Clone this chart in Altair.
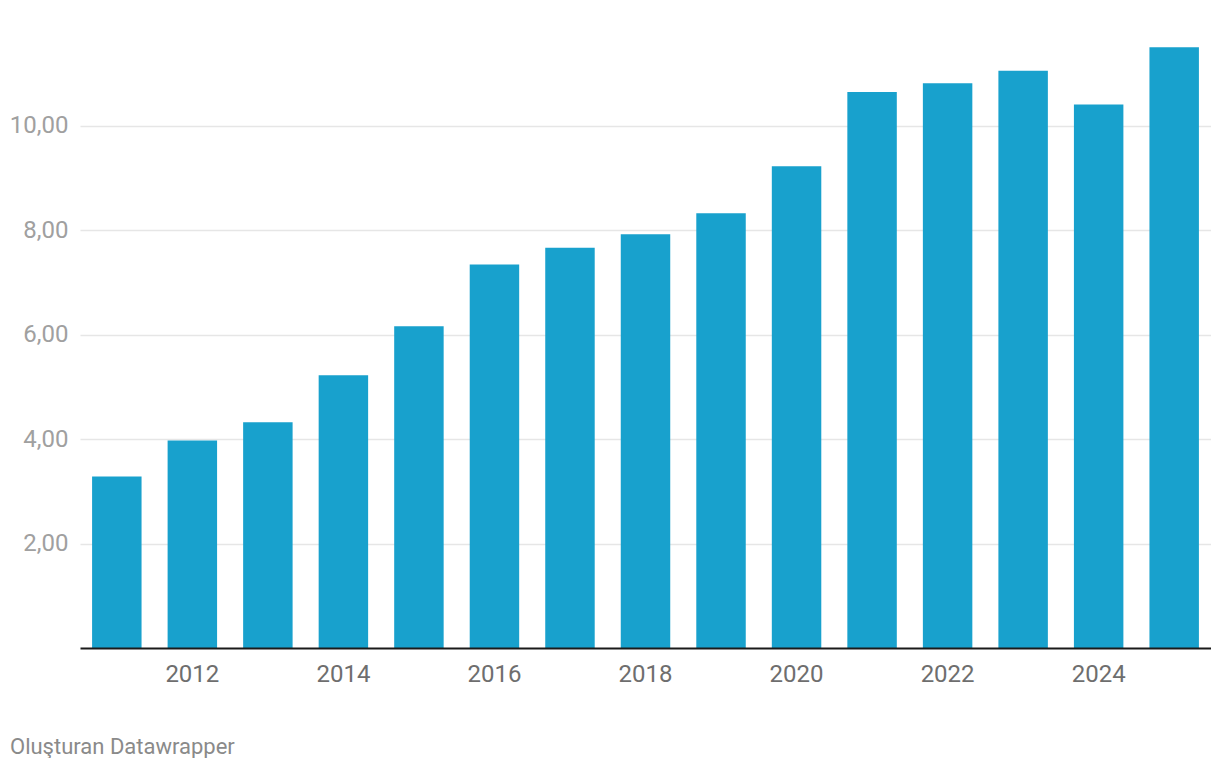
import altair as alt
import pandas as pd

years = [2011, 2012, 2013, 2014, 2015, 2016, 2017, 2018, 2019, 2020, 2021, 2022, 2023, 2024, 2025]
values = [3.28, 3.97, 4.32, 5.22, 6.16, 7.34, 7.66, 7.92, 8.32, 9.22, 10.64, 10.81, 11.05, 10.40, 11.50]
y_ticks = [2, 4, 6, 8, 10]
footer = "Oluşturan Datawrapper"

df = pd.DataFrame({"year": years, "value": values})

W, H = 1131, 608
YMAX = H / 52.25

bars = alt.Chart(df).mark_bar(color="#18a1cd").encode(
    x=alt.X("year:O",
            scale=alt.Scale(paddingInner=0.345, paddingOuter=0.16),
            axis=alt.Axis(title=None, labelAngle=0, ticks=False, tickSize=0,
                          labelPadding=14, labelFontSize=24, labelColor="#6e6e6e",
                          labelFont="Roboto", domainColor="#1a1a1a", domainWidth=2,
                          zindex=1,
                          labelExpr="toNumber(datum.value) % 2 == 0 ? datum.label : ''")),
    y=alt.Y("value:Q",
            scale=alt.Scale(domain=[0, YMAX], nice=False),
            axis=alt.Axis(title=None, values=y_ticks, domain=False, ticks=False,
                          labelPadding=12, labelFontSize=24, labelColor="#a0a0a0",
                          labelFont="Roboto", gridColor="#e6e6e6", gridWidth=1.5,
                          labelExpr="replace(format(datum.value, '.2f'), '.', ',')")),
)

foot = alt.Chart(pd.DataFrame({"t": [footer]})).mark_text(
    align="left", baseline="alphabetic", fontSize=22, font="Roboto", color="#8a8a8a"
).encode(text="t:N", x=alt.value(-70), y=alt.value(714))

chart = alt.layer(bars, foot).properties(
    width=W, height=H,
    autosize=alt.AutoSizeParams(type="none"),
    padding={"left": 72, "top": 32, "right": 0, "bottom": 110},
).configure_view(stroke=None)

chart.save("out.html", embed_options={"renderer": "svg", "actions": False})
